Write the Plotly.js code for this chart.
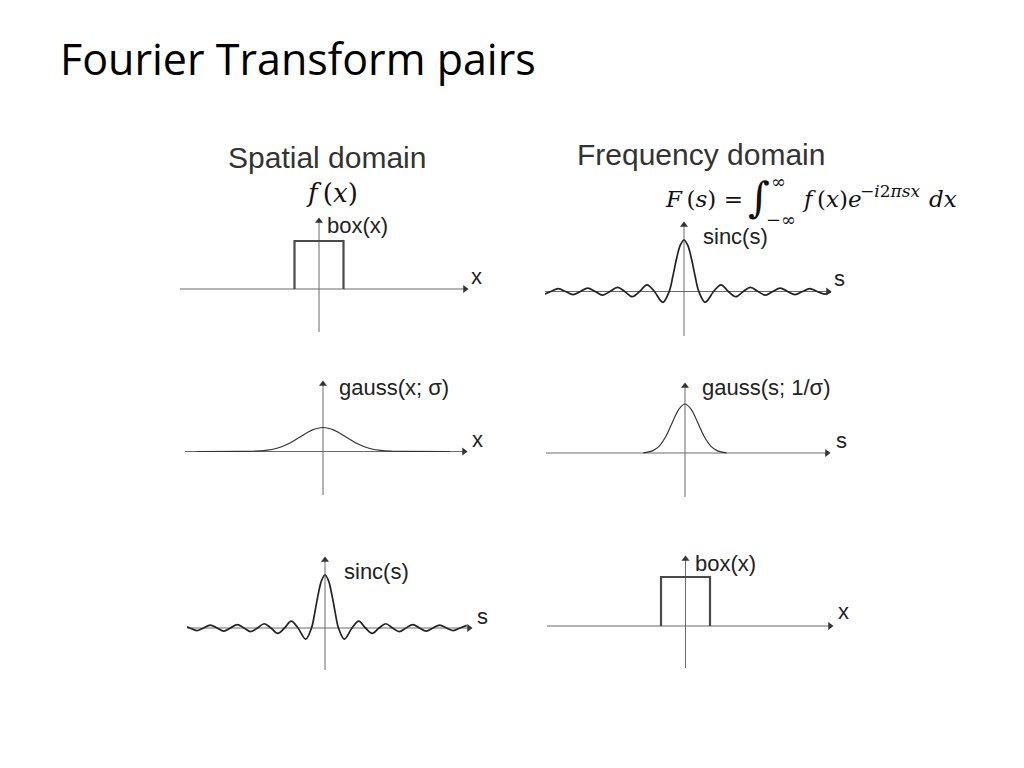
<!DOCTYPE html>
<html>
<head>
<meta charset="utf-8">
<script src="https://cdn.plot.ly/plotly-3.0.1.min.js"></script>
<style>html,body{margin:0;padding:0;background:#fff;}#chart{width:1024px;height:768px;}</style>
</head>
<body>
<div id="chart"></div>
<script>
// ---------------- data ----------------
// box function: unit half-width, unit height
const boxX = [-1, -1, 1, 1];
const boxY = [0, 1, 1, 0];

// sinc: x in units of zero-crossing spacing, y relative to peak
const sincX = [-10.5,-10,-9.5,-9,-8.5,-8,-7.5,-7,-6.5,-6,-5.5,-5,-4.5,-4,-3.5,-3,-2.5,-2,-1.43,-1,-0.75,-0.5,-0.25,0,
               0.25,0.5,0.75,1,1.43,2,2.5,3,3.5,4,4.5,5,5.5,6,6.5,7,7.5,8,8.5,9,9.5,10,10.5];
const sincY = [0.05,0,-0.05,0,0.055,0,-0.06,0,0.065,0,-0.07,0,0.08,0,-0.10,0,0.13,0,-0.21,0,0.30,0.64,0.90,1,
               0.90,0.64,0.30,0,-0.21,0,0.13,0,-0.10,0,0.08,0,-0.07,0,0.065,0,-0.06,0,0.055,0,-0.05,0,0.05];

// gaussians: x in units of sigma, y relative to peak
const gaussSpatialX = [-5.5,-3.5,-3,-2.5,-2,-1.5,-1,-0.5,0,0.5,1,1.5,2,2.5,3,3.5,5.5];
const gaussSpatialY = [0,0.002,0.011,0.044,0.135,0.325,0.607,0.882,1,0.882,0.607,0.325,0.135,0.044,0.011,0.002,0];
const gaussFreqX = [-3.2,-3,-2.5,-2,-1.5,-1,-0.5,0,0.5,1,1.5,2,2.5,3,3.2];
const gaussFreqY = [0.006,0.011,0.044,0.135,0.325,0.607,0.882,1,0.882,0.607,0.325,0.135,0.044,0.011,0.006];

// labels
const titleText = "Fourier Transform pairs";
const columnTitles = ["Spatial domain", "Frequency domain"];
const panelLabels = ["box(x)", "sinc(s)", "gauss(x; σ)", "gauss(s; 1/σ)", "sinc(s)", "box(x)"];
const axisLetters = ["x", "s", "x", "s", "s", "x"];

// ---------------- layout geometry (pixels) ----------------
const W = 1024, H = 768;
const panels = [
  {left:180, right:468, top:218, bottom:332, ox:319, by:289,   xu:24.5, yu:48,   fx:boxX, fy:boxY, kind:'box'},
  {left:545, right:831, top:222, bottom:336, ox:684, by:291.5, xu:14.8, yu:51.5, fx:sincX, fy:sincY, kind:'sinc'},
  {left:185, right:467, top:381, bottom:495, ox:323, by:451.5, xu:23,   yu:24,   fx:gaussSpatialX, fy:gaussSpatialY, kind:'gauss'},
  {left:546, right:830, top:383, bottom:497, ox:685, by:453,   xu:13,   yu:49,   fx:gaussFreqX, fy:gaussFreqY, kind:'gauss'},
  {left:187, right:472, top:557, bottom:670, ox:325, by:628,   xu:13.5, yu:53,   fx:sincX, fy:sincY, kind:'sinc'},
  {left:547, right:833, top:556, bottom:668, ox:685.5, by:626, xu:24.5, yu:49,   fx:boxX, fy:boxY, kind:'box'}
];
const labelPos = [[325,226],[701,236],[337,387],[700,387],[342,571],[693,563]];
const letterPos = [[469,277],[832,278],[470,439],[834,440],[475,616],[836,611]];

const traces = [];
const layout = {
  width: W, height: H,
  margin: {l:0, r:0, t:0, b:0},
  paper_bgcolor: '#ffffff', plot_bgcolor: 'rgba(0,0,0,0)',
  showlegend: false,
  annotations: []
};
const px = v => v / W;
const py = v => 1 - v / H;
const axisColor = '#6a6a6a';

panels.forEach((p, i) => {
  const n = i + 1;
  const xa = 'xaxis' + (n === 1 ? '' : n), ya = 'yaxis' + (n === 1 ? '' : n);
  const xr = 'x' + (n === 1 ? '' : n), yr = 'y' + (n === 1 ? '' : n);
  const xmin = (p.left - p.ox) / p.xu, xmax = (p.right - p.ox) / p.xu;
  const ymin = (p.by - p.bottom) / p.yu, ymax = (p.by - p.top) / p.yu;
  layout[xa] = {visible:false, range:[xmin, xmax], domain:[px(p.left), px(p.right)], fixedrange:true, anchor:yr};
  layout[ya] = {visible:false, range:[ymin, ymax], domain:[py(p.bottom), py(p.top)], fixedrange:true, anchor:xr};

  // axis lines (from the axis ranges) with arrowheads
  const hx = xmax - 3 / p.xu, vy = ymax - 3 / p.yu;
  traces.push({type:'scatter', mode:'lines', x:[xmin, hx], y:[0, 0], xaxis:xr, yaxis:yr,
    line:{color:axisColor, width:1}, hoverinfo:'skip', cliponaxis:false});
  traces.push({type:'scatter', mode:'lines', x:[0, 0], y:[ymin, vy], xaxis:xr, yaxis:yr,
    line:{color:axisColor, width:1}, hoverinfo:'skip', cliponaxis:false});

  let line;
  if (p.kind === 'box') line = {color:'#4a4a4a', width:2.2, shape:'linear'};
  else if (p.kind === 'sinc') line = {color:'#222222', width:1.7, shape:'spline', smoothing:1};
  else line = {color:'#333333', width:1.2, shape:'spline', smoothing:1};
  traces.push({type:'scatter', mode:'lines', x:p.fx, y:p.fy, xaxis:xr, yaxis:yr, line:line, hoverinfo:'skip', cliponaxis:true});

  traces.push({type:'scatter', mode:'markers', x:[hx], y:[0], xaxis:xr, yaxis:yr,
    marker:{symbol:'triangle-right', size:7, color:'#333'}, hoverinfo:'skip', cliponaxis:false});
  traces.push({type:'scatter', mode:'markers', x:[0], y:[vy], xaxis:xr, yaxis:yr,
    marker:{symbol:'triangle-up', size:7, color:'#333'}, hoverinfo:'skip', cliponaxis:false});

  layout.annotations.push({xref:'paper', yref:'paper', x:px(labelPos[i][0]), y:py(labelPos[i][1]),
    xanchor:'left', yanchor:'middle', showarrow:false, text:panelLabels[i],
    font:{family:'Liberation Sans, Arial, sans-serif', size:22, color:'#222'}});
  layout.annotations.push({xref:'paper', yref:'paper', x:px(letterPos[i][0]), y:py(letterPos[i][1]),
    xanchor:'left', yanchor:'middle', showarrow:false, text:axisLetters[i],
    font:{family:'Liberation Sans, Arial, sans-serif', size:22, color:'#222'}});
});

// slide title
layout.annotations.push({xref:'paper', yref:'paper', x:px(58), y:py(59), xanchor:'left', yanchor:'middle',
  showarrow:false, text:titleText, font:{family:'Open Sans, Lato, sans-serif', size:43, color:'#000'}});
// column titles
layout.annotations.push({xref:'paper', yref:'paper', x:px(226), y:py(157), xanchor:'left', yanchor:'middle',
  showarrow:false, text:columnTitles[0], font:{family:'Liberation Sans, Arial, sans-serif', size:30, color:'#333'}});
layout.annotations.push({xref:'paper', yref:'paper', x:px(575), y:py(155), xanchor:'left', yanchor:'middle',
  showarrow:false, text:columnTitles[1], font:{family:'Liberation Sans, Arial, sans-serif', size:30, color:'#333'}});

// formulas
const serif = 'DejaVu Serif, Liberation Serif, serif';
const fcol = '#111';
const addText = (x, y, text, size, fam) => layout.annotations.push({xref:'paper', yref:'paper', x:px(x), y:py(y),
  xanchor:'left', yanchor:'middle', showarrow:false, text:text, font:{family:fam || serif, size:size, color:fcol}});
addText(304, 193, '<i>f</i>\u2009(<i>x</i>)', 26);
addText(663, 199, '<i>F</i>\u2009(<i>s</i>) =', 23);
addText(746, 197, '\u222B', 42);
addText(769, 182, '\u221E', 18);
addText(764, 219, '\u2212\u221E', 18);
addText(800, 199, '<i>f</i>\u2009(<i>x</i>)<i>e</i>', 23);
addText(858, 191, '\u2212<i>i</i>2<i>\u03C0sx</i>', 17);
addText(927, 199, '<i>dx</i>', 23);

Plotly.newPlot('chart', traces, layout, {staticPlot:true, displayModeBar:false});
</script>
</body>
</html>
